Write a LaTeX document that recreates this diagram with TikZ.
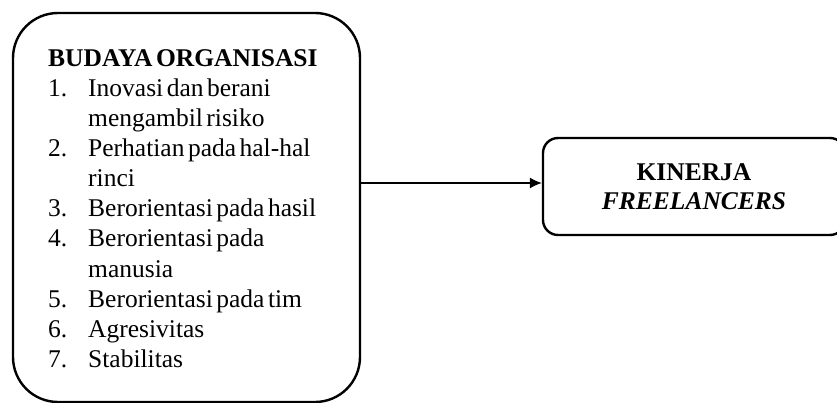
\documentclass[tikz,border=0pt]{standalone}
\usepackage{fontspec}
\setmainfont[WordSpace=0.55]{Liberation Serif}
\usetikzlibrary{positioning,arrows.meta}

\begin{document}
\begin{tikzpicture}[x=1pt, y=-1pt,
  txt/.style={anchor=base west, inner sep=0pt, font=\fontsize{25.5}{30}\selectfont},
  bigbox/.style={draw, line width=2.4pt, rounded corners=45pt, minimum width=347pt, minimum height=389pt},
  smallbox/.style={draw, line width=2.4pt, rounded corners=15pt, minimum width=302pt, minimum height=97pt, align=center, font=\fontsize{25.5}{29}\selectfont}]
\clip (0,0) rectangle (837,403);
\node[bigbox] (budaya) at (186.5, 207.5) {};
\node[smallbox] (kinerja) at (694, 186.5) {\textbf{KINERJA}\\\textbf{\textit{FREELANCERS}}};

\node[txt] (judul) at (48, 67) {\textbf{BUDAYA ORGANISASI}};
\node[txt] (n1) at (48, 97) {1.};
\node[txt] (i1) at (88, 97) {Inovasi dan berani};
\node[txt] (i1b) at (88, 127) {mengambil risiko};
\node[txt] (n2) at (48, 157) {2.};
\node[txt] (i2) at (88, 157) {Perhatian pada hal-hal};
\node[txt] (i2b) at (88, 187) {rinci};
\node[txt] (n3) at (48, 217) {3.};
\node[txt] (i3) at (88, 217) {Berorientasi pada hasil};
\node[txt] (n4) at (48, 247) {4.};
\node[txt] (i4) at (88, 247) {Berorientasi pada};
\node[txt] (i4b) at (88, 277) {manusia};
\node[txt] (n5) at (48, 307) {5.};
\node[txt] (i5) at (88, 307) {Berorientasi pada tim};
\node[txt] (n6) at (48, 337) {6.};
\node[txt] (i6) at (88, 337) {Agresivitas};
\node[txt] (n7) at (48, 367) {7.};
\node[txt] (i7) at (88, 367) {Stabilitas};

\coordinate (lvl) at (0, 183);
\draw[line width=1.2pt, -{Latex[length=12pt, width=11pt]}] (budaya.east |- lvl) -- (kinerja.west |- lvl);
\end{tikzpicture}
\end{document}
